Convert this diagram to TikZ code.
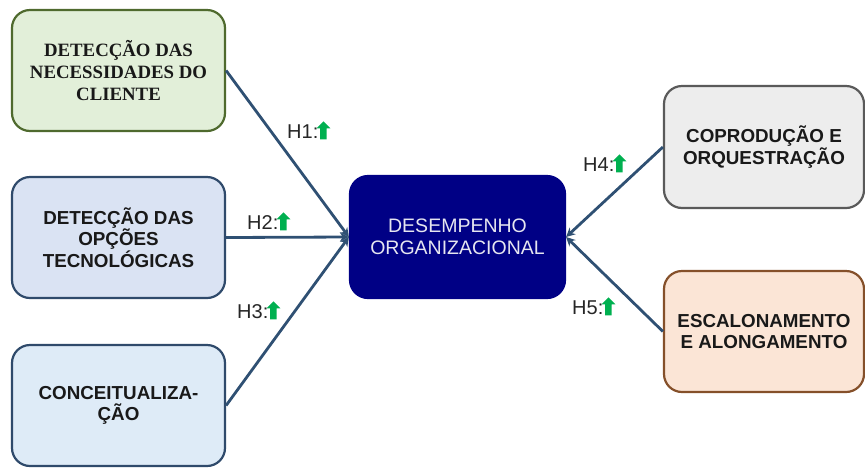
\documentclass[tikz,border=0pt]{standalone}
\usepackage{fontspec}
\setmainfont{Liberation Sans}
\newfontfamily\timesfont{Liberation Serif}
\usetikzlibrary{arrows.meta,positioning,shapes.arrows}
\definecolor{needfill}{HTML}{E2EFD9}
\definecolor{needdraw}{HTML}{4F6A2E}
\definecolor{techfill}{HTML}{DAE3F3}
\definecolor{concfill}{HTML}{DEEBF7}
\definecolor{bluedraw}{HTML}{2F4A6B}
\definecolor{perffill}{HTML}{000085}
\definecolor{perftext}{HTML}{E6E6F0}
\definecolor{coprfill}{HTML}{EDEDED}
\definecolor{coprdraw}{HTML}{5A5A5A}
\definecolor{escafill}{HTML}{FBE5D6}
\definecolor{escadraw}{HTML}{85502A}
\definecolor{linkcol}{HTML}{2F5073}
\definecolor{upgreen}{HTML}{00B050}
\tikzset{
 factor/.style={draw, line width=2.2pt, rounded corners=18pt, minimum width=213pt,
   minimum height=121pt, align=center, font=\fontsize{18.8}{21.7}\selectfont\bfseries,
   text=black!90},
 link/.style={linkcol, line width=2.8pt, -{Stealth[length=9pt,width=9pt]}},
 hlabel/.style={inner sep=0pt, font=\fontsize{20}{22}\selectfont, text=black!85},
 uparrow/.style={single arrow, shape border rotate=90, fill=upgreen, draw=none,
   minimum height=18pt, minimum width=14pt, inner sep=2.8pt,
   single arrow head extend=3.5pt, single arrow head indent=0pt}
}
\begin{document}
\begin{tikzpicture}[x=1pt,y=-1pt]
\useasboundingbox (0,0) rectangle (865,467);
\node[factor, fill=needfill, draw=needdraw, font=\fontsize{18.8}{21.7}\selectfont\timesfont\bfseries]
  (need) at (118.5,70.5) {DETECÇÃO DAS\\NECESSIDADES DO\\CLIENTE};
\node[factor, fill=techfill, draw=bluedraw] (tech) at (118.5,237.5) {DETECÇÃO DAS\\OPÇÕES\\TECNOLÓGICAS};
\node[factor, fill=concfill, draw=bluedraw] (conc) at (118.5,405.5) {CONCEITUALIZA-\\ÇÃO};
\node[factor, fill=perffill, draw=perffill, text=perftext, minimum width=215pt, minimum height=122pt,
  font=\fontsize{19.5}{22.5}\selectfont] (perf) at (457.5,237) {DESEMPENHO\\ORGANIZACIONAL};
\node[factor, fill=coprfill, draw=coprdraw, minimum width=200pt, minimum height=122pt] (copr) at (764,147)
  {COPRODUÇÃO E\\ORQUESTRAÇÃO};
\node[factor, fill=escafill, draw=escadraw, minimum width=200pt, minimum height=121pt] (esca) at (764,331.5)
  {ESCALONAMENTO\\E ALONGAMENTO};
\foreach \src in {need, tech, conc}
  \draw[link] (\src.east) -- (perf.west);
\foreach \src in {copr, esca}
  \draw[link] (\src.west) -- (perf.east);
\foreach \n/\x/\y in {1/287/132, 2/247/223, 3/237/312, 4/583/165, 5/572/308} {
  \node[hlabel, anchor=west] (h\n) at (\x,\y) {H\n:};
  \node[uparrow, right=1.5pt of h\n] (u\n) {};
}
\end{tikzpicture}
\end{document}
